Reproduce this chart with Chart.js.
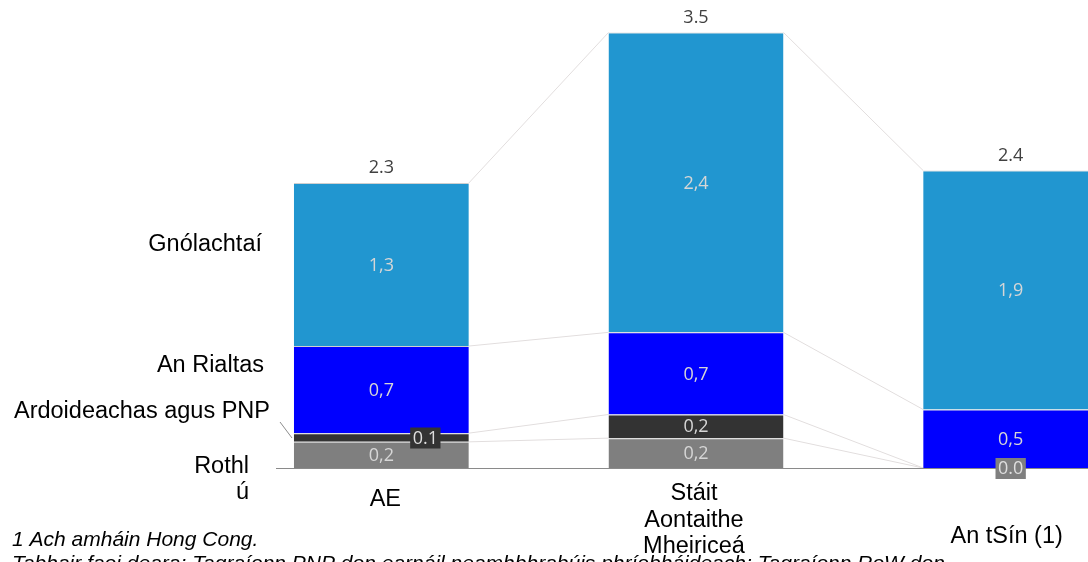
<!DOCTYPE html>
<html>
<head>
<meta charset="utf-8">
<script src="https://cdn.jsdelivr.net/npm/chart.js@4.4.1/dist/chart.umd.min.js"></script>
<style>
  html, body { margin: 0; padding: 0; overflow: hidden; background: #fff; }
  #wrap { width: 1088px; height: 562px; overflow: hidden; position: relative; }
  canvas { position: absolute; left: 0; top: 0; }
</style>
</head>
<body>
<div id="wrap"><canvas id="chart" width="1170" height="562"></canvas></div>
<script>
// categories and series (bottom segment first)
const categories = [['AE'], ['Stáit', 'Aontaithe', 'Mheiriceá'], ['An tSín (1)']];
const seriesNames = ['Rothlú', 'Ardoideachas agus PNP', 'An Rialtas', 'Gnólachtaí'];
const seriesLabelLines = [['Rothl', 'ú'], ['Ardoideachas agus PNP'], ['An Rialtas'], ['Gnólachtaí']];
const rothluValues = [0.21, 0.24, 0.0];
const ardoideachasValues = [0.07, 0.19, 0.0];
const rialtasValues = [0.70, 0.66, 0.47];
const gnolachtaiValues = [1.31, 2.41, 1.92];
const footnotes = [
    '1 Ach amháin Hong Cong.',
    'Tabhair faoi deara: Tagraíonn PNP don earnáil neamhbhrabúis phríobháideach; Tagraíonn RoW don'
];

const seriesValues = [rothluValues, ardoideachasValues, rialtasValues, gnolachtaiValues];
const seriesColors = ['#7f7f7f', '#333333', '#0000ff', '#2196d0'];

const totals = categories.map((c, j) => seriesValues.reduce((s, arr) => s + arr[j], 0));

const textFont = '23.5px "Liberation Sans", Arial, sans-serif';
const noteFont = 'italic 21px "Liberation Sans", Arial, sans-serif';
const valueFont = '18px "Open Sans", "Noto Sans", sans-serif';

const overlayPlugin = {
    id: 'overlay',
    beforeDatasetsDraw(chart) {
        const ctx = chart.ctx;
        ctx.save();
        ctx.strokeStyle = '#e2dede';
        ctx.lineWidth = 1;
        // connector lines between neighbouring bars
        for (let i = 0; i < seriesValues.length; i++) {
            const meta = chart.getDatasetMeta(i);
            for (let j = 0; j < meta.data.length - 1; j++) {
                const a = meta.data[j];
                const b = meta.data[j + 1];
                ctx.beginPath();
                ctx.moveTo(a.x + a.width / 2, a.y);
                ctx.lineTo(b.x - b.width / 2, b.y);
                ctx.stroke();
            }
        }
        ctx.restore();
    },
    afterDatasetsDraw(chart) {
        const ctx = chart.ctx;
        const yScale = chart.scales.y;
        const x0 = yScale.getPixelForValue(0);
        ctx.save();

        // baseline
        ctx.strokeStyle = '#8a8a8a';
        ctx.lineWidth = 1.2;
        ctx.beginPath();
        ctx.moveTo(276, x0 + 0.5);
        ctx.lineTo(chart.width, x0 + 0.5);
        ctx.stroke();

        // segment value labels
        const boxShift = [44, 0, 0];
        ctx.font = valueFont;
        ctx.textAlign = 'center';
        ctx.textBaseline = 'middle';
        seriesValues.forEach((arr, i) => {
            const meta = chart.getDatasetMeta(i);
            arr.forEach((v, j) => {
                if (v === 0 && i > 0) return;
                const el = meta.data[j];
                const cy = (el.y + el.base) / 2;
                const h = Math.abs(el.base - el.y);
                if (h < 14) {
                    const txt = v.toFixed(1);
                    const cx = el.x + boxShift[j];
                    const w = ctx.measureText(txt).width + 5;
                    ctx.fillStyle = seriesColors[i];
                    ctx.fillRect(cx - w / 2, cy - 10, w, 21);
                    ctx.fillStyle = '#dedede';
                    ctx.fillText(txt, cx, cy + 1);
                } else {
                    ctx.fillStyle = '#d6d6d6';
                    ctx.fillText(v.toFixed(1).replace('.', ','), el.x, cy + 1);
                }
            });
        });

        // totals above bars
        const topMeta = chart.getDatasetMeta(seriesValues.length - 1);
        ctx.fillStyle = '#404040';
        totals.forEach((t, j) => {
            const el = topMeta.data[j];
            ctx.fillText(t.toFixed(1), el.x, el.y - 15);
        });

        // series names on the left
        ctx.font = textFont;
        ctx.fillStyle = '#000';
        ctx.textAlign = 'right';
        const nameRight = [249, 270, 264, 262];
        const nameY = [467, 412, 366, 245];
        seriesLabelLines.forEach((lines, i) => {
            lines.forEach((line, k) => {
                ctx.fillText(line, nameRight[i], nameY[i] + k * 26);
            });
        });
        // pointer to the small segment
        ctx.strokeStyle = '#8c8c8c';
        ctx.lineWidth = 1;
        ctx.beginPath();
        ctx.moveTo(280, 422);
        ctx.lineTo(292, 438);
        ctx.stroke();

        // category labels
        ctx.textAlign = 'center';
        const catY = [500, 494, 537];
        const catShift = [4, -2, -4];
        const xScale = chart.scales.x;
        categories.forEach((lines, j) => {
            const cx = xScale.getPixelForValue(j) + catShift[j];
            lines.forEach((line, k) => {
                ctx.fillText(line, cx, catY[j] + k * 26.5);
            });
        });

        // footnotes
        ctx.font = noteFont;
        ctx.textAlign = 'left';
        ctx.textBaseline = 'alphabetic';
        footnotes.forEach((line, k) => {
            ctx.fillText(line, 12, 546 + k * 24);
        });
        ctx.restore();
    }
};

new Chart(document.getElementById('chart').getContext('2d'), {
    type: 'bar',
    data: {
        labels: categories.map(c => c.join(' ')),
        datasets: seriesNames.map((name, i) => ({
            label: name,
            data: seriesValues[i],
            backgroundColor: seriesColors[i],
            borderColor: '#cfcfcf',
            borderWidth: { top: 1 },
            borderSkipped: false,
            barPercentage: 0.556,
            categoryPercentage: 1
        }))
    },
    options: {
        responsive: false,
        animation: false,
        devicePixelRatio: 1,
        layout: { padding: { left: 224, right: 2, top: 20, bottom: 94 } },
        plugins: {
            legend: { display: false },
            tooltip: { enabled: false }
        },
        scales: {
            x: { stacked: true, display: false },
            y: { stacked: true, display: false, min: 0, max: 3.6 }
        }
    },
    plugins: [overlayPlugin]
});
</script>
</body>
</html>
